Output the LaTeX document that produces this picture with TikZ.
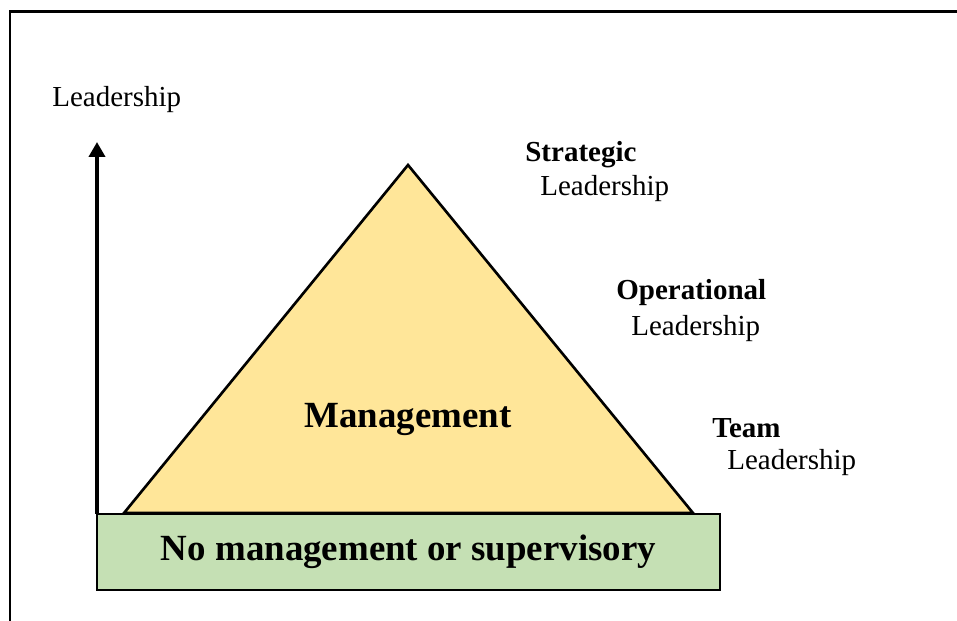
\documentclass[tikz,border=0pt]{standalone}
\usepackage{fontspec}
\setmainfont{Liberation Serif}
\usetikzlibrary{positioning, arrows.meta}
\definecolor{mgmtyellow}{HTML}{FFE699}
\definecolor{basegreen}{HTML}{C5E0B4}

\begin{document}
\begin{tikzpicture}[
      every node/.style={font=\fontsize{16.5}{20}\selectfont},
      lbl/.style={anchor=west, inner sep=0pt},
      bigtxt/.style={font=\fontsize{21}{25}\selectfont\bfseries},
      basebox/.style={draw, line width=1.5pt, fill=basegreen, inner sep=0pt, outer sep=0pt,
                      minimum width=12.46cm, minimum height=1.52cm},
      axis/.style={line width=2.2pt, -{Triangle[length=0.3cm, width=0.32cm]}},
    ]
    \useasboundingbox (0,0) rectangle (19.14,12.42);
    % outer frame (only top and left show)
    \draw[line width=1.5pt] (0.2,0) -- (0.2,12.19) -- (19.14,12.19);

    % pyramid
    \coordinate (apex) at (8.16,9.12);
    \coordinate (baseL) at (2.48,2.16);
    \coordinate (baseR) at (13.86,2.16);
    \draw[line width=1.5pt, fill=mgmtyellow, line join=miter] (baseL) -- (apex) -- (baseR) -- cycle;
    \node[bigtxt] (mgmt) at (8.16,4.04) {Management};

    % base box
    \node[basebox, bigtxt] (box) at (8.17,1.38) {No management or supervisory};

    % vertical axis
    \coordinate (axistop) at (1.94,9.58);
    \draw[axis] (box.north west) -- (axistop);
    \node[lbl] (axislbl) at (1.04,10.42) {Leadership};

    % levels
    \node[lbl] (strat) at (10.5,9.32) {\textbf{Strategic}};
    \node[lbl] (stratL) at (10.8,8.64) {Leadership};
    \node[lbl] (oper) at (12.32,6.56) {\textbf{Operational}};
    \node[lbl] (operL) at (12.62,5.84) {Leadership};
    \node[lbl] (team) at (14.24,3.86) {\textbf{Team}};
    \node[lbl] (teamL) at (14.54,3.16) {Leadership};
  \end{tikzpicture}
\end{document}
